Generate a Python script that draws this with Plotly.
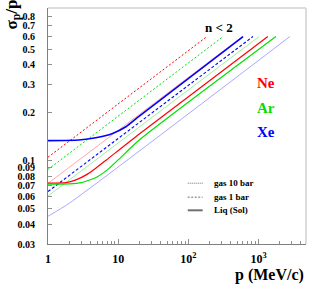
import numpy as np
import plotly.graph_objects as go

# ---------------- data ----------------
ne_1bar_p = [1, 184]
ne_1bar_s = [0.105, 0.6]
ar_1bar_p = [1, 313]
ar_1bar_s = [0.088, 0.6]
xe_1bar_p = [1, 834]
xe_1bar_s = [0.064, 0.6]

ne_10bar_p = [1, 590]
ne_10bar_s = [0.072, 0.6]
ar_10bar_p = [1, 1016]
ar_10bar_s = [0.060, 0.6]
xe_10bar_p = [1, 2, 2800]
xe_10bar_s = [0.0448, 0.054, 0.6]

ne_liq_p = [1, 1.8, 2.5, 3.5, 4.8, 6.8, 20, 1360]
ne_liq_s = [0.0722, 0.0728, 0.0757, 0.0814, 0.0896, 0.101, 0.147, 0.6]
ar_liq_p = [1, 2, 3, 4, 5, 7, 10, 20, 1772]
ar_liq_s = [0.0712, 0.0715, 0.0728, 0.0758, 0.079, 0.0875, 0.101, 0.1346, 0.6]
xe_liq_p = [1, 2.76, 4.8, 8.3, 12.9, 20, 603]
xe_liq_s = [0.1334, 0.1347, 0.139, 0.148, 0.163, 0.19, 0.6]

y_tickvals = [0.03, 0.04, 0.05, 0.06, 0.07, 0.08, 0.09, 0.1, 0.2, 0.3, 0.4, 0.5, 0.6, 0.7, 0.8]
y_ticktext = ["0.03", "0.04", "0.05", "0.06", "0.07", "0.08", "0.09", "0.1",
              "0.2", "0.3", "0.4", "0.5", "0.6", "0.7", "0.8"]
x_tickvals = [1, 10, 100, 1000]
x_ticktext = ["1", "10", "10<sup>2</sup>", "10<sup>3</sup>"]

element_labels = ["Ne", "Ar", "Xe"]
legend_labels = ["gas 10 bar", "gas 1 bar", "Liq (Sol)"]

RED = "#ff0000"
GREEN = "#00e000"
BLUE = "#0000ff"
PINK = "#ffa8a8"
LGREEN = "#a0f0a0"
LBLUE = "#a8a8ff"

W, H = 316, 284
L, R, T, B = 48, 9.5, 7.5, 39.7
PW, PH = W - L - R, H - T - B

def px(xp):
    return (xp - L) / PW

def py(yp):
    return (H - B - yp) / PH

SERIF = "Liberation Serif"

fig = go.Figure()

def add(p, s, color, width, dash):
    fig.add_trace(go.Scatter(x=p, y=s, mode="lines",
                             line=dict(color=color, width=width, dash=dash, shape="spline", smoothing=0.6),
                             showlegend=False, hoverinfo="skip"))

# 10 bar (fine dotted -> pale)
add(xe_10bar_p, xe_10bar_s, LBLUE, 1.0, "solid")
add(ar_10bar_p, ar_10bar_s, LGREEN, 1.0, "solid")
add(ne_10bar_p, ne_10bar_s, PINK, 1.0, "solid")
# 1 bar dashed
add(ne_1bar_p, ne_1bar_s, RED, 1.0, "2px,2px")
add(ar_1bar_p, ar_1bar_s, GREEN, 1.0, "2px,2px")
add(xe_1bar_p, xe_1bar_s, BLUE, 1.1, "3px,2px")
# liquids solid
add(ne_liq_p, ne_liq_s, RED, 1.2, "solid")
add(ar_liq_p, ar_liq_s, GREEN, 1.2, "solid")
add(xe_liq_p, xe_liq_s, BLUE, 1.6, "solid")

x_minor = [m * 10 ** d for d in range(0, 4) for m in range(2, 10)]

fig.update_xaxes(type="log", range=[0, PW / 70.3], automargin=False,
                 tickvals=x_tickvals, ticktext=x_ticktext,
                 ticks="inside", ticklen=5, tickcolor="#909090", tickwidth=1,
                 minor=dict(tickvals=x_minor, ticks="inside", ticklen=3, tickcolor="#909090"),
                 showline=True, linecolor="#808080", linewidth=1,
                 showgrid=False, zeroline=False,
                 ticklabelstandoff=4,
                 tickfont=dict(family=SERIF, size=12, color="black", weight="bold"))
fig.update_yaxes(type="log", range=[np.log10(0.03), np.log10(0.03) + PH / 160.0], automargin=False,
                 tickvals=y_tickvals, ticktext=y_ticktext,
                 ticks="inside", ticklen=4, tickcolor="#909090", tickwidth=1,
                 showline=True, linecolor="#808080", linewidth=1,
                 showgrid=False, zeroline=False,
                 ticklabelstandoff=10,
                 tickfont=dict(family=SERIF, size=10, color="black", weight="bold"))

# light frame on top/right
fig.add_shape(type="line", xref="paper", yref="paper", x0=0, x1=1, y0=1, y1=1,
              line=dict(color="#dcdcdc", width=2))
fig.add_shape(type="line", xref="paper", yref="paper", x0=1, x1=1, y0=0, y1=1,
              line=dict(color="#dcdcdc", width=2))

ann = []
ann.append(dict(text="σ<sub>p</sub>/p", x=px(13), y=py(14), xref="paper", yref="paper",
                textangle=-90, showarrow=False, xanchor="center", yanchor="middle",
                font=dict(family=SERIF, size=17, color="black", weight="bold")))
ann.append(dict(text="p (MeV/c)", x=px(307), y=py(275), xref="paper", yref="paper",
                showarrow=False, xanchor="right", yanchor="middle",
                font=dict(family=SERIF, size=16, color="black", weight="bold")))
ann.append(dict(text="n < 2", x=px(219), y=py(27), xref="paper", yref="paper",
                showarrow=False, xanchor="center", yanchor="middle",
                font=dict(family=SERIF, size=13, color="black", weight="bold")))
for lab, col, yy in zip(element_labels, [RED, GREEN, BLUE], [83, 108, 132]):
    ann.append(dict(text=lab, x=px(266.5), y=py(yy), xref="paper", yref="paper",
                    showarrow=False, xanchor="center", yanchor="middle",
                    font=dict(family=SERIF, size=15, color=col, weight="bold")))
for lab, yy, dash, wid in zip(legend_labels, [183.3, 197.3, 210.5],
                              ["1px,1px", "2px,1.5px", "solid"], [1, 1, 2]):
    ann.append(dict(text=lab, x=px(212.5), y=py(yy), xref="paper", yref="paper",
                    showarrow=False, xanchor="left", yanchor="middle",
                    font=dict(family=SERIF, size=9, color="black", weight="bold")))
    fig.add_shape(type="line", xref="paper", yref="paper",
                  x0=px(188), x1=px(203), y0=py(yy), y1=py(yy),
                  line=dict(color="#707070", width=wid, dash=dash))

fig.update_layout(width=W, height=H, margin=dict(l=L, r=R, t=T, b=B),
                  paper_bgcolor="white", plot_bgcolor="white",
                  annotations=ann, showlegend=False)

fig.write_html("out.html", config={"displayModeBar": False, "staticPlot": True},
               post_script="document.body.style.margin='0px';document.body.style.padding='0px';")
